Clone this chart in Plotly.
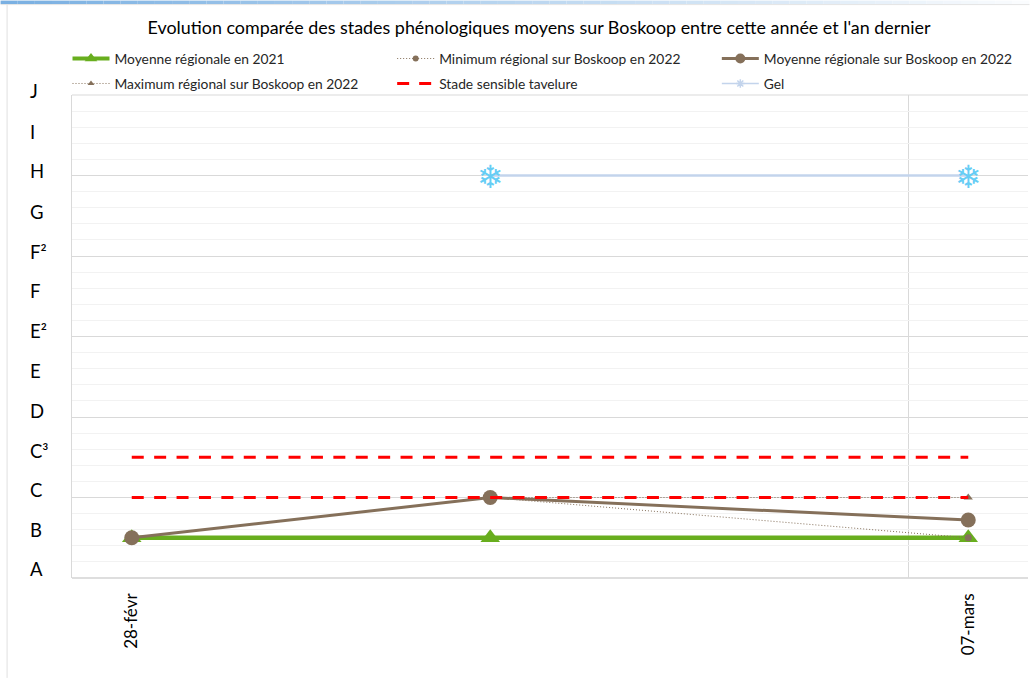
import plotly.graph_objects as go

# ---- data ----
title = "Evolution comparée des stades phénologiques moyens sur Boskoop entre cette année et l'an dernier"
dates = ["2022-02-28", "2022-03-03", "2022-03-07"]
tick_dates = ["2022-02-28", "2022-03-07"]
tick_labels = ["28-févr", "07-mars"]
moy_2021 = [2.5, 2.5, 2.5]
min_2022 = [2.5, 5, 2.5]
moy_2022 = [2.5, 5, 3.6]
max_2022 = [2.5, 5, 5]
tavelure_c = [5, 5, 5]
tavelure_c3 = [7.5, 7.5, 7.5]
gel_dates = ["2022-03-03", "2022-03-07"]
gel = [25, 25]
stage_labels = ["A", "B", "C", "C³", "D", "E", "E²", "F", "F²", "G", "H", "I", "J"]
stage_label_y = [0.5, 2.9, 5.4, 7.85, 10.3, 12.8, 15.3, 17.75, 20.2, 22.7, 25.2, 27.65, 30.2]

W, H = 1030, 678
L, R, T, B = 71.5, 1.5, 94.5, 100
PW = W - L - R
PH = H - T - B
def px(x): return (x - L) / PW
def py(y): return 1 - (y - T) / PH

FONT = "Lato"
BROWN = "#85705a"
GREEN = "#68ae1e"
RED = "#ff0000"
ICE = "#c3d4ec"
FLAKE = "#66cdf5"

fig = go.Figure()
# real series
fig.add_trace(go.Scatter(x=dates, y=moy_2021, mode="lines+markers", showlegend=False,
    line=dict(color=GREEN, width=4.5), marker=dict(symbol="triangle-up", size=17, color=GREEN)))
fig.add_trace(go.Scatter(x=dates, y=min_2022, mode="lines+markers", showlegend=False,
    line=dict(color=BROWN, width=1, dash="1px,2px"), marker=dict(symbol="circle", size=7, color=BROWN)))
fig.add_trace(go.Scatter(x=dates, y=max_2022, mode="lines+markers", showlegend=False,
    line=dict(color=BROWN, width=1, dash="1px,2px"), marker=dict(symbol="triangle-up", size=8, color=BROWN)))
fig.add_trace(go.Scatter(x=dates, y=moy_2022, mode="lines+markers", showlegend=False,
    line=dict(color=BROWN, width=3), marker=dict(symbol="circle", size=15, color=BROWN)))
for s in (tavelure_c, tavelure_c3):
    fig.add_trace(go.Scatter(x=dates, y=s, mode="lines", showlegend=False,
        line=dict(color=RED, width=3.2, dash="12px,10.4px")))
fig.add_trace(go.Scatter(x=gel_dates, y=gel, mode="lines", showlegend=False,
    line=dict(color=ICE, width=2.5)))

# legend entries: one legend box per entry, laid out as a 3x2 grid
def entry(name, legend, mode, line, marker=None):
    kw = dict(x=[None], y=[None], name=name, legend=legend, mode=mode, line=line, showlegend=True)
    if marker: kw["marker"] = marker
    fig.add_trace(go.Scatter(**kw))

dot = dict(color=BROWN, width=1, dash="1px,2px")
entry("Moyenne régionale en 2021", "legend", "lines+markers", dict(color=GREEN, width=4),
      dict(symbol="triangle-up", size=11, color=GREEN))
entry("Minimum régional sur Boskoop en 2022", "legend2", "lines+markers", dot,
      dict(symbol="circle", size=6, color=BROWN))
entry("Moyenne régionale sur Boskoop en 2022", "legend3", "lines+markers", dict(color=BROWN, width=3),
      dict(symbol="circle", size=10, color=BROWN))
entry("Maximum régional sur Boskoop en 2022", "legend4", "lines+markers", dot,
      dict(symbol="triangle-up", size=6, color=BROWN))
entry("Stade sensible tavelure", "legend5", "lines", dict(color=RED, width=3, dash="12px,10px"))
entry("Gel", "legend6", "lines+markers", dict(color=ICE, width=1.5),
      dict(symbol="asterisk-open", size=7, line=dict(color=FLAKE, width=1.5)))

annotations = [dict(text=t, xref="paper", yref="paper", x=px(27.5), y=v / 30, xanchor="left", yanchor="middle",
                    yshift=1, showarrow=False, font=dict(family=FONT, size=18.5, color="#000000"))
               for t, v in zip(stage_labels, stage_label_y)]
# frost markers, anchored on the Gel series
annotations += [dict(text="❄", xref="x", yref="y", x=d, y=v, xanchor="center", yanchor="middle", yshift=-1,
                     showarrow=False, font=dict(family="DejaVu Sans", size=32, color=FLAKE))
                for d, v in zip(gel_dates, gel)]

# page decoration: gradient band at the top and frame on the left
shapes = []
N = 60
for i in range(N):
    f = i / (N - 1)
    c = (int(122 + f * (250 - 122)), int(176 + f * (252 - 176)), int(226 + f * (254 - 226)))
    shapes.append(dict(type="rect", xref="paper", yref="paper",
                       x0=px(i * W / N), x1=px((i + 1) * W / N), y0=py(3.5), y1=py(0),
                       fillcolor=f"rgb{c}", line_width=0, layer="below"))
shapes.append(dict(type="line", xref="paper", yref="paper", x0=px(0), x1=px(W), y0=py(4), y1=py(4),
                   line=dict(color="#e4e4e4", width=1), layer="below"))
shapes.append(dict(type="line", xref="paper", yref="paper", x0=px(6.5), x1=px(6.5), y0=py(4), y1=py(H),
                   line=dict(color="#e0e0e0", width=1), layer="below"))
# top and bottom edges of the plot area
shapes.append(dict(type="line", xref="paper", yref="paper", x0=0, x1=1, y0=1, y1=1,
                   line=dict(color="#d9d9d9", width=1), layer="below"))
shapes.append(dict(type="line", xref="paper", yref="paper", x0=0, x1=1, y0=0, y1=0,
                   line=dict(color="#dedede", width=2), layer="below"))

legend_common = dict(orientation="h", xanchor="left", yanchor="middle", itemwidth=37,
                     tracegroupgap=0, bgcolor="rgba(0,0,0,0)",
                     font=dict(family=FONT, size=13.8, color="#262626"), itemclick=False)
legend_x = [67, 392, 717]
legend_y = [58, 83]

fig.update_layout(
    width=W, height=H, autosize=False,
    margin=dict(l=L, r=R, t=T, b=B, pad=0),
    paper_bgcolor="white", plot_bgcolor="white",
    title=dict(text=title, x=539 / W, xanchor="center", y=1 - 27.5 / H, yanchor="middle",
               font=dict(family=FONT, size=17.9, color="#000000")),
    xaxis=dict(type="date", range=["2022-02-27 12:00", "2022-03-07 12:00"],
               tickmode="array", tickvals=tick_dates, ticktext=tick_labels, tickangle=-90,
               tickfont=dict(family=FONT, size=17, color="#000000"),
               ticks="", ticklabelstandoff=11, showgrid=False,
               showline=False, zeroline=False,
               minor=dict(tickmode="array", tickvals=["2022-03-06 12:00"], showgrid=True,
                          gridcolor="#d9d9d9", gridwidth=1, ticks="")),
    yaxis=dict(range=[0, 30], tickmode="linear", tick0=0, dtick=5, showticklabels=False, ticks="",
               showgrid=True, gridcolor="#d9d9d9", gridwidth=1, zeroline=False,
               showline=True, linecolor="#d9d9d9", linewidth=1, mirror=False,
               minor=dict(tickmode="linear", tick0=0, dtick=1, showgrid=True, gridcolor="#f2f2f2",
                          gridwidth=1, ticks="")),
    legend=dict(legend_common, x=px(legend_x[0]), y=py(legend_y[0])),
    legend2=dict(legend_common, x=px(legend_x[1]), y=py(legend_y[0])),
    legend3=dict(legend_common, x=px(legend_x[2]), y=py(legend_y[0])),
    legend4=dict(legend_common, x=px(legend_x[0]), y=py(legend_y[1])),
    legend5=dict(legend_common, x=px(legend_x[1]), y=py(legend_y[1])),
    legend6=dict(legend_common, x=px(legend_x[2]), y=py(legend_y[1])),
    annotations=annotations, shapes=shapes, showlegend=True,
)
fig.write_html("out.html", config=dict(displayModeBar=False),
               post_script="document.body.style.margin='0';document.body.style.overflow='hidden';")
